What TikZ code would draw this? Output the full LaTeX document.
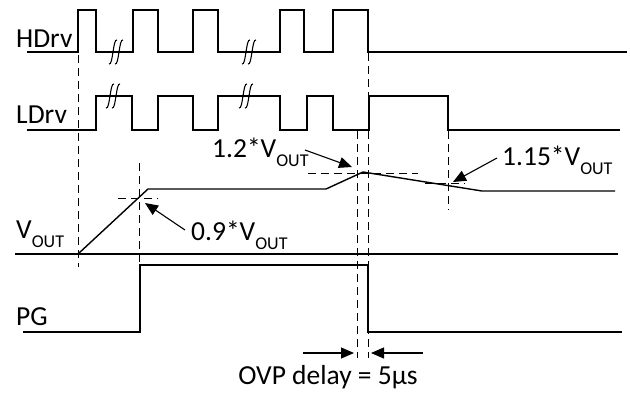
\documentclass[tikz,border=0pt]{standalone}
\usepackage{fontspec}
\setmainfont{Carlito}
\usetikzlibrary{arrows.meta}
\newcommand{\vout}{V\raisebox{-9pt}{\fontsize{18}{18}\selectfont OUT}}
\tikzset{
  brk/.pic={
    \draw[line width=1.1pt] (-6,12) .. controls (-2,14) and (-2,-14) .. (2,-12);
    \draw[line width=1.1pt] (0,12) .. controls (4,14) and (4,-14) .. (8,-12);
  }
}
\begin{document}
\begin{tikzpicture}[x=1pt,y=-1pt,
  sig/.style={line width=1.4pt},
  guide/.style={line width=1pt,dash pattern=on 8pt off 5pt},
  lbl/.style={anchor=base west,inner sep=0pt,font=\fontsize{27.5}{32}\selectfont},
  tip/.style={-{Triangle[length=13pt,width=11pt]},line width=1.1pt}]
\useasboundingbox (0,0) rectangle (630,392);
% signal names
\node[lbl] (hdrv) at (16,47) {HDrv};
\node[lbl] (ldrv) at (16,123) {LDrv};
\node[lbl] (vo) at (16,238) {\vout};
\node[lbl] (pg) at (16,325) {PG};
% HDrv
\draw[sig] (27,52) -- (78,52) -- (78,10) -- (96,10) -- (96,52) -- (133,52) -- (133,10) -- (158,10) -- (158,52)
  -- (193,52) -- (193,10) -- (218,10) -- (218,52) -- (280,52) -- (280,10) -- (304,10) -- (304,52)
  -- (333,52) -- (333,10) -- (368,10) -- (368,52) -- (627,52);
% LDrv
\draw[sig] (27,130) -- (96,130) -- (96,96) -- (132,96) -- (132,130) -- (158,130) -- (158,96) -- (193,96) -- (193,130)
  -- (218,130) -- (218,96) -- (280,96) -- (280,130) -- (307,130) -- (307,96) -- (333,96) -- (333,130)
  -- (369,130) -- (369,96) -- (448,96) -- (448,130) -- (620,130);
% breaks
\pic at (115,52) {brk};
\pic at (248,52) {brk};
\pic at (112,96) {brk};
\pic at (245,96) {brk};
% VOUT
\draw[sig] (15,254) -- (618,254);
\draw[sig] (78,254) -- (148,189) -- (326,189) -- (363,172) -- (482,191) -- (615,191);
% PG
\draw[sig] (23,332) -- (140,332) -- (140,265) -- (368,265) -- (368,332) -- (622,332);
% guides
\draw[guide] (78,55) -- (78,267);
\draw[guide] (139,163) -- (139,265);
\draw[guide] (357,131) -- (357,358);
\draw[guide] (368,53) -- (368,358);
\draw[guide] (448,131) -- (448,210);
\draw[guide] (118,198) -- (158,198);
\draw[guide] (308,173) -- (418,173);
\draw[guide] (425,183) -- (465,183);
% levels
\node[lbl] (l09) at (191,240) {0.9*\vout};
\node[lbl] (l12) at (212,157) {1.2*\vout};
\node[lbl] (l115) at (502,165) {1.15*\vout};
\coordinate (s09) at (185,230);
\coordinate (t09) at (145,203);
\coordinate (s12) at (305,150);
\coordinate (t12) at (352,167);
\coordinate (s115) at (497,158);
\coordinate (t115) at (453,182);
\draw[tip] (s09) -- (t09);
\draw[tip] (s12) -- (t12);
\draw[tip] (s115) -- (t115);
% OVP delay
\coordinate (da) at (303,353);
\coordinate (db) at (354,353);
\coordinate (dc) at (423,353);
\coordinate (dd) at (371,353);
\draw[tip] (da) -- (db);
\draw[tip] (dc) -- (dd);
\node[lbl,anchor=base] (ovp) at (328,384) {OVP delay = 5µs};
\end{tikzpicture}
\end{document}
